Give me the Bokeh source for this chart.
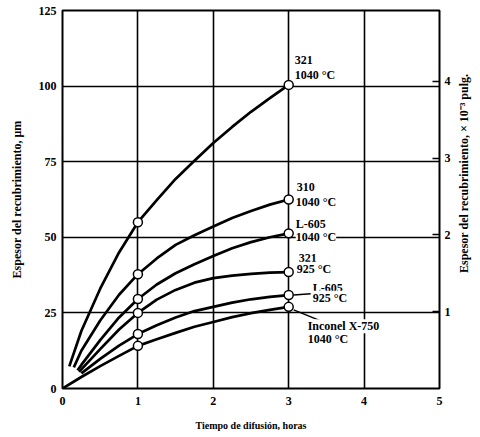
from bokeh.plotting import figure
from bokeh.models import Range1d, LinearAxis, FixedTicker
from bokeh.layouts import row
from bokeh.embed import file_html
from bokeh.resources import INLINE
from bokeh.core.properties import value

# ---------------- data ----------------
x_ticks = [0, 1, 2, 3, 4, 5]
y_ticks = [0, 25, 50, 75, 100, 125]
inch_ticks = [1, 2, 3, 4]
um_per_milli_inch = 25.4

series_names = ["321", "310", "L-605", "321", "L-605", "Inconel X-750"]
series_temps = ["1040 °C", "1040 °C", "1040 °C", "925 °C", "925 °C", "1040 °C"]

hours_a = [0.25, 0.5, 0.75, 1, 1.25, 1.5, 1.75, 2, 2.25, 2.5, 2.75, 3]

x_321_1040 = [0.09] + hours_a
y_321_1040 = [7.3, 19, 33, 45, 55, 62.3, 69.3, 75.3, 81.2, 86.5, 91.5, 96, 100.4]

x_310_1040 = [0.15] + hours_a
y_310_1040 = [7, 12.5, 22.5, 31, 37.8, 43, 47.5, 50.7, 53.6, 56.4, 58.7, 60.8, 62.5]

x_l605_1040 = [0.2] + hours_a
y_l605_1040 = [6, 7.8, 16, 23.5, 29.6, 34.4, 38.1, 41.1, 43.8, 46.4, 48.4, 50, 51.3]

x_321_925 = [0.22] + hours_a
y_321_925 = [5.5, 6.3, 13, 19.5, 25, 29.4, 32.6, 35, 36.5, 37.3, 37.9, 38.3, 38.5]

x_l605_925 = [0.25] + hours_a[1:]
y_l605_925 = [5, 9.8, 14.2, 18, 20.9, 23.5, 25.6, 27, 28.4, 29.5, 30.3, 30.9]

x_inconel = [0] + hours_a
y_inconel = [0, 3.8, 7.4, 10.8, 14.1, 16.3, 18.4, 20.4, 22, 23.6, 24.9, 26, 27]

series_x = [x_321_1040, x_310_1040, x_l605_1040, x_321_925, x_l605_925, x_inconel]
series_y = [y_321_1040, y_310_1040, y_l605_1040, y_321_925, y_l605_925, y_inconel]
marker_hours = [1, 3]

x_title = "Tiempo de difusión, horas"
y_title = "Espesor del recubrimiento, μm"
y2_title = "Espesor del recubrimiento, × 10⁻³ pulg."

# ---------------- layout / style ----------------
W, H = 456, 434
BL, BR, BT, BB = 62, 17, 10, 46
FW, FH = W - BL - BR, H - BT - BB
X0, X1, Y0, Y1 = 0, 5, 0, 125
SERIF = "Liberation Serif"

p = figure(width=W, height=H,
           x_range=Range1d(X0, X1), y_range=Range1d(Y0, Y1),
           output_backend="svg", toolbar_location=None,
           min_border_left=BL, min_border_right=BR,
           min_border_top=BT, min_border_bottom=BB)
p.background_fill_color = "white"
p.border_fill_color = "white"
p.outline_line_color = "black"
p.outline_line_width = 2

# grid
p.xgrid.ticker = FixedTicker(ticks=[t for t in x_ticks if X0 < t < X1])
p.ygrid.ticker = FixedTicker(ticks=[t for t in y_ticks if Y0 < t < Y1])
for g in (p.xgrid, p.ygrid):
    g.grid_line_color = "black"
    g.grid_line_width = 1.6
    g.grid_line_alpha = 1.0

def style_axis(ax, fs="12px"):
    ax.axis_line_color = None
    ax.minor_tick_line_color = None
    ax.major_tick_out = 0
    ax.major_tick_in = 0
    ax.major_label_text_font = SERIF
    ax.major_label_text_font_style = "bold"
    ax.major_label_text_font_size = fs
    ax.major_label_text_color = "black"
    ax.axis_label_text_font = SERIF
    ax.axis_label_text_font_style = "bold"
    ax.axis_label_text_color = "black"

xa = p.xaxis[0]
style_axis(xa)
xa.ticker = FixedTicker(ticks=x_ticks)
xa.major_label_standoff = 8
xa.axis_label = x_title
xa.axis_label_text_font_size = "10px"
xa.axis_label_standoff = 12

ya = p.yaxis[0]
style_axis(ya)
ya.ticker = FixedTicker(ticks=y_ticks)
ya.major_label_standoff = 6
ya.axis_label = y_title
ya.axis_label_text_font_size = "12px"
ya.axis_label_standoff = 12

p.extra_y_ranges = {"inch": Range1d(Y0 / um_per_milli_inch, Y1 / um_per_milli_inch)}
ra = LinearAxis(y_range_name="inch", ticker=FixedTicker(ticks=inch_ticks))
style_axis(ra)
ra.major_tick_in = 7
ra.major_tick_line_color = "black"
ra.major_tick_line_width = 1.5
ra.major_label_standoff = 5
p.add_layout(ra, "right")

# curves and markers
for xs, ys in zip(series_x, series_y):
    p.line(xs, ys, line_color="black", line_width=2.7, line_join="round")
for xs, ys in zip(series_x, series_y):
    mx = [x for x in xs if x in marker_hours]
    my = [y for x, y in zip(xs, ys) if x in marker_hours]
    p.scatter(mx, my, size=9, marker="circle", fill_color="white",
              line_color="black", line_width=1.5)

# label placement: pixel offsets (dx right, dy down) from each curve's last point
xpx = FW / (X1 - X0)
ypx = FH / (Y1 - Y0)
name_off = [(6, -25), (8, -12.5), (7, -9.5), (10, -14), (24, -7.5), (19, 19.5)]
temp_off = [(6, -10), (7, 2.5), (7, 3.3), (8, -3.4), (24, 2.7), (19, 32.5)]
leaders = {4: ((5, 0), (22, -1.3)), 5: ((5, 3), (32, 14))}

lx, ly, lt = [], [], []
for i, (xs, ys) in enumerate(zip(series_x, series_y)):
    xe, ye = xs[-1], ys[-1]
    for off, txt in ((name_off[i], series_names[i]), (temp_off[i], series_temps[i])):
        lx.append(xe + off[0] / xpx)
        ly.append(ye - off[1] / ypx)
        lt.append(txt)
    if i in leaders:
        (a, b), (c, d) = leaders[i]
        p.segment(x0=[xe + a / xpx], y0=[ye - b / ypx],
                  x1=[xe + c / xpx], y1=[ye - d / ypx],
                  line_color="black", line_width=1.5)

p.text(x=lx, y=ly, text=lt, text_font=value(SERIF), text_font_size="12px",
       text_font_style="bold", text_baseline="middle", text_align="left",
       text_color="black", background_fill_color="white")

# narrow strip holding the right-hand title, reading bottom to top
TW = 16
t = figure(width=TW, height=H, x_range=Range1d(0, TW), y_range=Range1d(0, H),
           output_backend="svg", toolbar_location=None, min_border=0,
           x_axis_type=None, y_axis_type=None)
t.outline_line_color = None
t.background_fill_color = "white"
t.border_fill_color = "white"
t.xgrid.visible = False
t.ygrid.visible = False
t.text(x=[TW / 2 - 1], y=[H - BT - FH / 2 + 12], text=[y2_title], angle=90, angle_units="deg",
       text_font=value(SERIF), text_font_size="12px", text_font_style="bold",
       text_align="center", text_baseline="middle", text_color="black")

layout = row(p, t)
open("out.html", "w").write(file_html(layout, INLINE))
